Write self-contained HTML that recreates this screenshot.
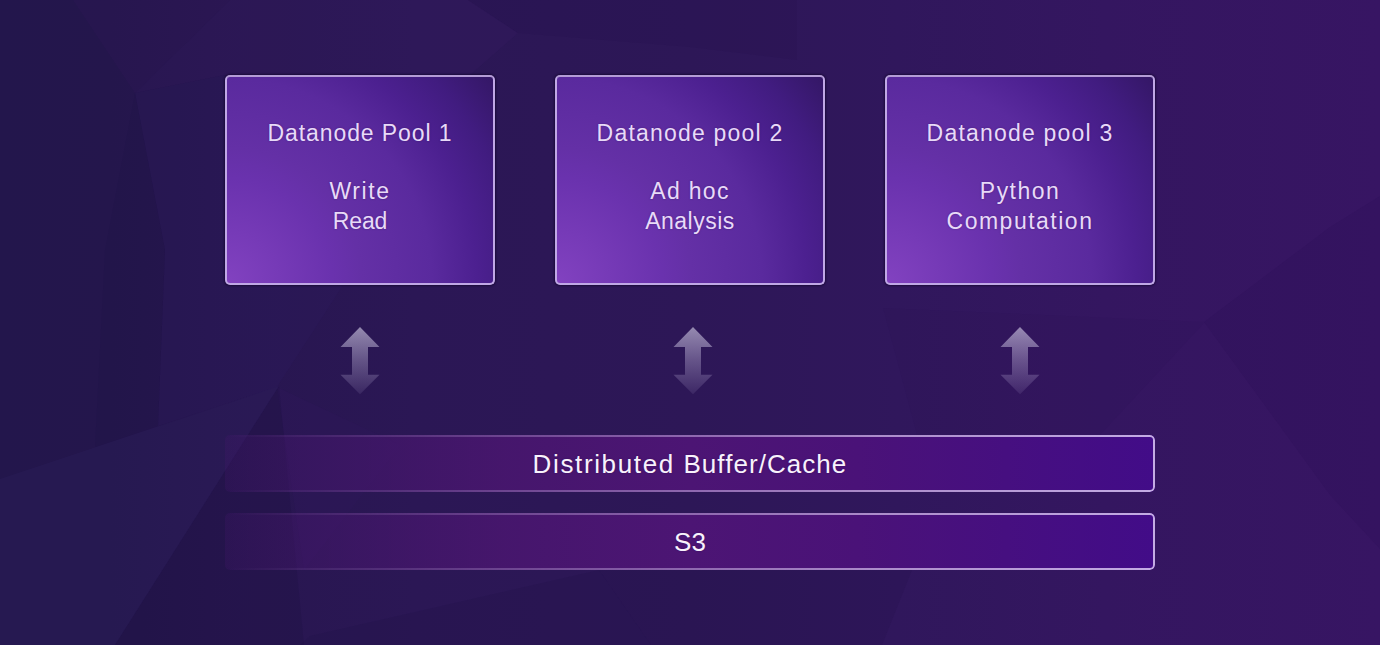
<!DOCTYPE html>
<html><head><meta charset="utf-8">
<style>
*{margin:0;padding:0;box-sizing:border-box}
html,body{width:1380px;height:645px;overflow:hidden}
body{position:relative;background:linear-gradient(90deg,#23164c 0%,#24164c 8%,#27164f 15%,#2b1755 30%,#2d1757 50%,#30175c 65%,#341660 80%,#371563 100%);font-family:"Liberation Sans",sans-serif}
#bg{position:absolute;left:0;top:0}
.card{position:absolute;top:75px;width:270px;height:210px;border:2px solid #c0a8e6;border-top-color:#b49cd6;border-radius:5px;
 background:radial-gradient(circle at 0 100%,#8242c0 0px,#6a32ae 105px,#6430a6 135px,#5a2a9e 205px,#4c2090 250px,#411c80 290px,#341766 336px);
 box-shadow:0 0 2px 1px rgba(15,5,40,0.6);color:#e8daf8;text-shadow:0 0 2px rgba(30,5,60,0.35);text-align:center;font-size:23px;letter-spacing:0.9px;line-height:30px}
.card .t{position:absolute;left:0;right:0;top:40.5px}
.card .b{position:absolute;left:0;right:0;top:99px}
.arrow{position:absolute;top:327px;width:40px;height:68px;overflow:visible}
.bar{position:absolute;left:225px;width:930px;height:57px;border-radius:5px;
 background:linear-gradient(90deg,rgba(72,22,112,0.22) 0%,rgba(74,22,112,0.85) 30%,#4c1574 50%,#4a1278 68%,#420c88 100%);
 color:#f8f2fc;text-shadow:0 0 2px rgba(30,5,60,0.35);text-align:center;font-size:26px;letter-spacing:1.2px;line-height:59px}
.bar::before{content:"";position:absolute;inset:0;border-radius:5px;padding:2px;
 background:linear-gradient(90deg,rgba(184,156,212,0) 0%,rgba(184,156,212,0.22) 20%,rgba(184,156,212,0.55) 45%,rgba(186,158,214,0.88) 70%,#c4ace4 100%);
 -webkit-mask:linear-gradient(#000 0 0) content-box,linear-gradient(#000 0 0);-webkit-mask-composite:xor;mask-composite:exclude}
</style></head><body>
<svg id="bg" width="1380" height="645" viewBox="0 0 1380 645">
<g stroke="none">
<polygon points="73,0 230,0 135,93" fill="#3a1c66" fill-opacity="0.15"/>
<polygon points="230,0 468,0 518,33 470,75 225,75 135,93" fill="#3c1c6a" fill-opacity="0.2"/>
<polygon points="135,93 225,75 225,285 345,282 277,387 158,426 165,250" fill="#34226a" fill-opacity="0.16"/>
<polygon points="277,387 400,445 304,570" fill="#3c1c6a" fill-opacity="0.12"/>
<polygon points="135,93 165,250 158,426 95,447 105,250" fill="#1a0e40" fill-opacity="0.12"/>
<polygon points="468,0 518,33 690,47 797,60 797,0 565,0" fill="#200c48" fill-opacity="0.15"/>
<polygon points="0,479 279,386 115,645 0,645" fill="#34286a" fill-opacity="0.2"/>
<polygon points="115,645 279,386 304,645" fill="#1a0e40" fill-opacity="0.25"/>
<polygon points="310,636 599,570 651,645 300,645" fill="#1a0e40" fill-opacity="0.18"/>
<polygon points="599,570 912,570 882,645 651,645" fill="#1a0e40" fill-opacity="0.14"/>
<polygon points="883,308 1205,322 1100,435 917,435" fill="#200c48" fill-opacity="0.08"/>
<polygon points="1204,322 1330,227 1380,196 1380,549 1330,495" fill="#200c48" fill-opacity="0.12"/>
</g>
</svg>
<div class="card" style="left:225px"><div class="t">Datanode Pool 1</div><div class="b"><span style="letter-spacing:1.6px">Write</span><br><span style="letter-spacing:-0.1px">Read</span></div></div>
<div class="card" style="left:555px"><div class="t" style="letter-spacing:1.2px">Datanode pool 2</div><div class="b"><span style="letter-spacing:1.3px">Ad hoc</span><br><span style="letter-spacing:0.5px">Analysis</span></div></div>
<div class="card" style="left:885px"><div class="t" style="letter-spacing:1.2px">Datanode pool 3</div><div class="b"><span style="letter-spacing:1.45px">Python</span><br><span style="letter-spacing:1.5px">Computation</span></div></div>

<svg class="arrow" style="left:340px" viewBox="0 0 40 68"><defs><linearGradient id="ag" x1="0" y1="0" x2="0" y2="1"><stop offset="0" stop-color="#e2def2" stop-opacity="0.58"/><stop offset="0.5" stop-color="#dcd4f2" stop-opacity="0.32"/><stop offset="1" stop-color="#d8ccf4" stop-opacity="0.09"/></linearGradient></defs><path d="M20 0 L39.5 20 L28 20 L28 47.8 L39.5 47.8 L20 67.3 L0.5 47.8 L12 47.8 L12 20 L0.5 20 Z" fill="url(#ag)"/></svg>
<svg class="arrow" style="left:673px" viewBox="0 0 40 68"><path d="M20 0 L39.5 20 L28 20 L28 47.8 L39.5 47.8 L20 67.3 L0.5 47.8 L12 47.8 L12 20 L0.5 20 Z" fill="url(#ag)"/></svg>
<svg class="arrow" style="left:1000px" viewBox="0 0 40 68"><path d="M20 0 L39.5 20 L28 20 L28 47.8 L39.5 47.8 L20 67.3 L0.5 47.8 L12 47.8 L12 20 L0.5 20 Z" fill="url(#ag)"/></svg>

<div class="bar" style="top:435px;letter-spacing:1.33px"><span style="letter-spacing:1.63px">Distributed</span> <span style="letter-spacing:1.06px">Buffer/Cache</span></div>
<div class="bar" style="top:513px;letter-spacing:0">S3</div>
</body></html>
